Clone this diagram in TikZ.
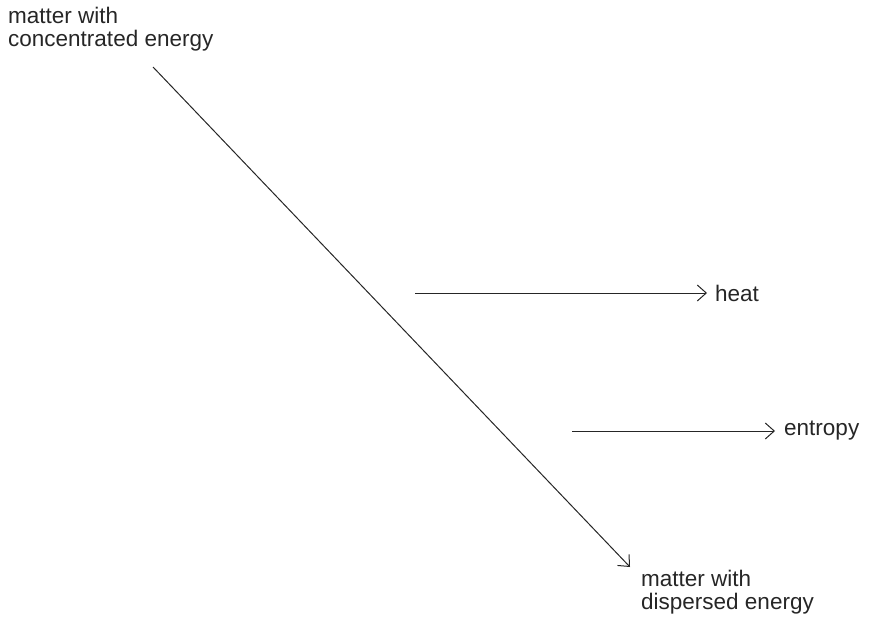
\documentclass[tikz,border=0pt]{standalone}
\usepackage{fontspec}
\setmainfont{Liberation Sans}
\usetikzlibrary{arrows.meta}
\begin{document}
\begin{tikzpicture}[x=1pt,y=-1pt,
  lbl/.style={inner sep=0pt,align=left,font=\fontsize{22.5}{23}\selectfont,text=black!85},
  arr/.style={line width=1pt,black!85,-{Straight Barb[length=9pt,width=16pt,line width=1pt]}}]
\useasboundingbox (0,0) rectangle (869,618);
\node[lbl,anchor=base west] (ctr) at (8,47) {matter with\\concentrated energy};
\node[lbl,anchor=base west] (disp) at (641,609) {matter with\\dispersed energy};
\node[lbl,anchor=base west] (heat) at (715,301) {heat};
\node[lbl,anchor=base west] (ent) at (784,435) {entropy};
\coordinate (a) at (153,67);
\coordinate (b) at (630,567);
\coordinate (h0) at (415,293);
\coordinate (h1) at (707,293);
\coordinate (e0) at (572,431);
\coordinate (e1) at (775,431);
\draw[arr] (a) -- (b);
\draw[arr] (h0) -- (h1);
\draw[arr] (e0) -- (e1);
\end{tikzpicture}
\end{document}
